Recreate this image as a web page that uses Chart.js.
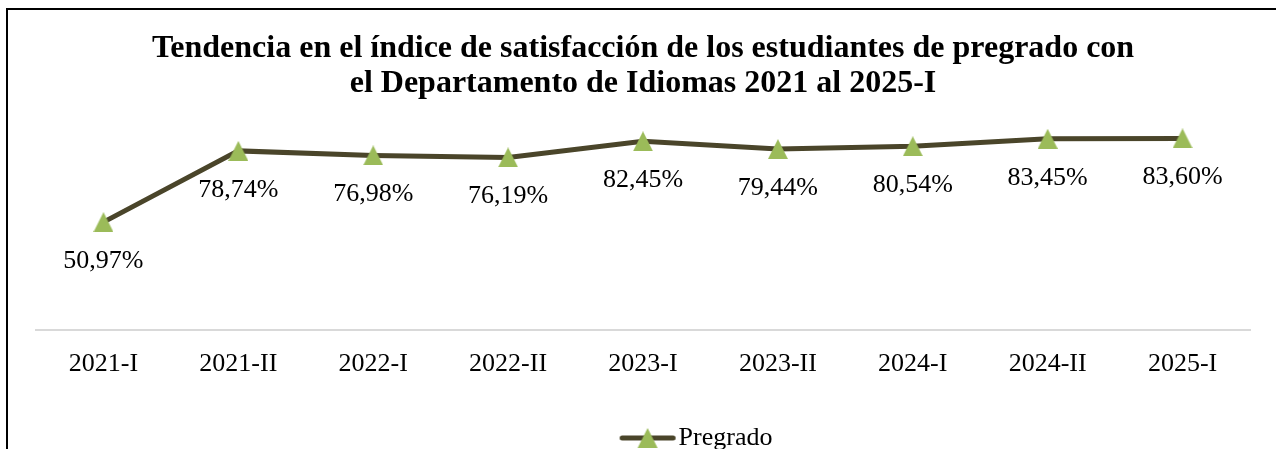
<!DOCTYPE html>
<html>
<head>
<meta charset="utf-8">
<script src="https://cdn.jsdelivr.net/npm/chart.js@4.4.1/dist/chart.umd.min.js"></script>
<style>
  html, body { margin: 0; padding: 0; background: #fff; overflow: hidden; }
  #frame {
    position: absolute; left: 6px; top: 8px;
    width: 1400px; height: 600px;
    border: 2px solid #000;
  }
  #wrap { position: absolute; left: 0; top: 0; width: 1276px; height: 470px; }
</style>
</head>
<body>
<div id="frame"></div>
<div id="wrap"><canvas id="chart" width="1276" height="470"></canvas></div>
<script>
const periods = ["2021-I", "2021-II", "2022-I", "2022-II", "2023-I", "2023-II", "2024-I", "2024-II", "2025-I"];
const pregrado = [50.97, 78.74, 76.98, 76.19, 82.45, 79.44, 80.54, 83.45, 83.60];
const titleLines = [
  "Tendencia en el índice de satisfacción de los estudiantes de pregrado con",
  "el Departamento de Idiomas 2021 al 2025-I"
];

const lineColor = "#4a452a";
const markerColor = "#9bbb59";

// triangle marker, centred on its box like the office one
const marker = document.createElement("canvas");
marker.width = 20;
marker.height = 20;
{
  const c = marker.getContext("2d");
  c.fillStyle = markerColor;
  c.beginPath();
  c.moveTo(10, 0);
  c.lineTo(20, 20);
  c.lineTo(0, 20);
  c.closePath();
  c.fill();
}

// legend key: line with the marker on it
const legendKey = document.createElement("canvas");
legendKey.width = 60;
legendKey.height = 22;
{
  const c = legendKey.getContext("2d");
  c.strokeStyle = lineColor;
  c.lineWidth = 5;
  c.lineCap = "round";
  c.beginPath();
  c.moveTo(4.5, 11);
  c.lineTo(55.5, 11);
  c.stroke();
  c.drawImage(marker, 20, 1);
}

const fmt = (v) => v.toFixed(2).replace(".", ",") + "%";

const valueLabels = {
  id: "valueLabels",
  afterDatasetsDraw(chart) {
    const ctx = chart.ctx;
    const meta = chart.getDatasetMeta(0);
    ctx.save();
    ctx.font = '26px "Liberation Serif"';
    ctx.fillStyle = "#000";
    ctx.textAlign = "center";
    ctx.textBaseline = "middle";
    meta.data.forEach((pt, i) => {
      ctx.fillText(fmt(pregrado[i]), pt.x, pt.y + 39);
    });
    ctx.restore();
  }
};

// legend sits a bit right of centre in the original
const shiftLegend = {
  id: "shiftLegend",
  afterLayout(chart) {
    chart.legend.left += 58;
    chart.legend.right += 58;
  }
};

Chart.defaults.font.family = '"Liberation Serif", "Times New Roman", serif';
Chart.defaults.color = "#000";

new Chart(document.getElementById("chart"), {
  type: "line",
  data: {
    labels: periods,
    datasets: [
      {
        label: "Pregrado",
        data: pregrado,
        borderColor: lineColor,
        borderWidth: 5,
        pointStyle: marker,
        pointRadius: 10,
        tension: 0,
      },
    ],
  },
  options: {
    responsive: false,
    animation: false,
    events: [],
    layout: { padding: { left: 36, right: 26, bottom: 9 } },
    plugins: {
      title: {
        display: true,
        text: titleLines,
        font: { size: 32, weight: "bold", lineHeight: 1.0875 },
        color: "#000",
        padding: { top: 31.1, bottom: 21.3 },
      },
      legend: {
        position: "bottom",
        labels: {
          usePointStyle: true,
          pointStyleWidth: 36,
          font: { size: 26 },
          color: "#000",
          padding: 26,
          generateLabels: () => [
            { text: "Pregrado", pointStyle: legendKey, fillStyle: markerColor, strokeStyle: lineColor, lineWidth: 0, datasetIndex: 0 },
          ],
        },
      },
      tooltip: { enabled: false },
    },
    scales: {
      x: {
        offset: true,
        grid: { display: false, drawTicks: false },
        border: { display: true, color: "#d9d9d9", width: 2 },
        ticks: { font: { size: 26 }, color: "#000", padding: 19 },
      },
      y: {
        display: false,
        min: 9,
        max: 90,
      },
    },
  },
  plugins: [valueLabels, shiftLegend],
});
</script>
</body>
</html>
